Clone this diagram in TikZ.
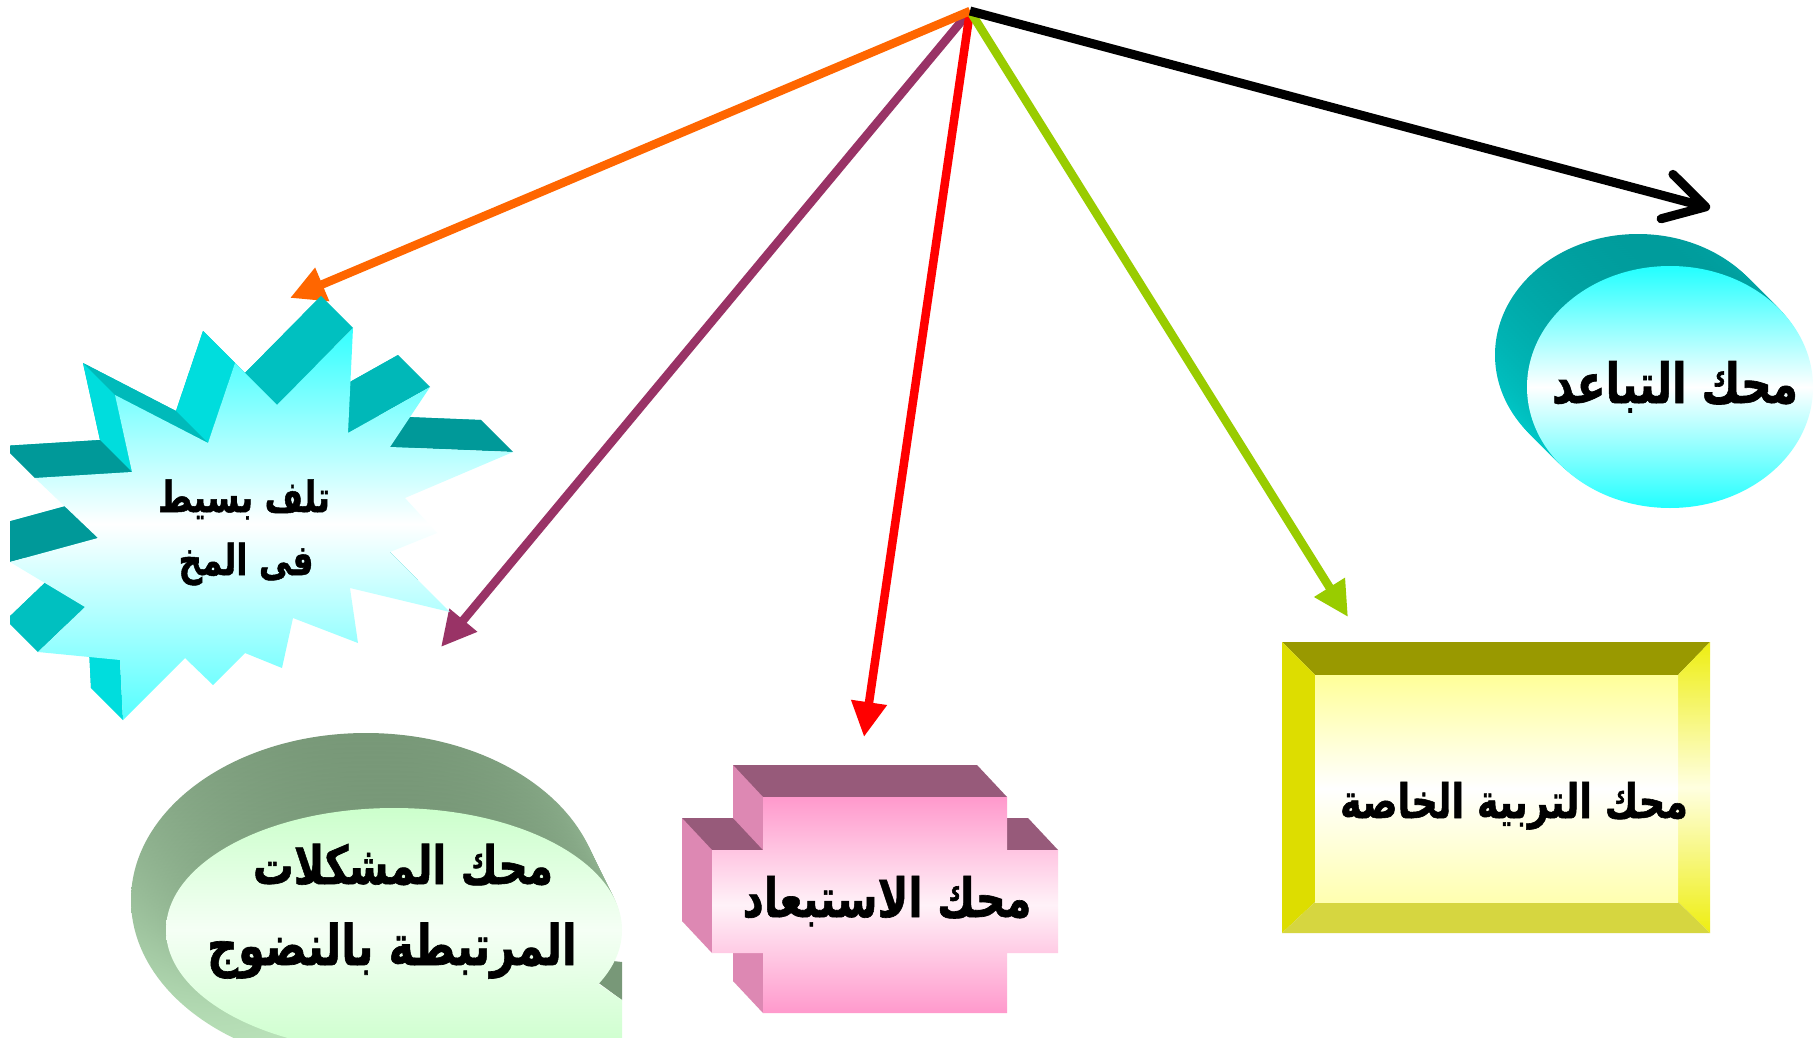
\documentclass[tikz,border=0pt]{standalone}
\usepackage{fontspec}
\usepackage{graphicx}
\usetikzlibrary{arrows.meta}
\TeXXeTstate=1
\newfontfamily\arabicfont[Script=Arabic,FakeBold=1.2]{DejaVu Sans Bold}
\newcommand\artxt[2]{\resizebox{#1pt}{!}{\scalebox{1}[1.3]{\arabicfont #2}}}
\definecolor{orA}{HTML}{FF6600}
\definecolor{puA}{HTML}{993366}
\definecolor{reA}{HTML}{FF0000}
\definecolor{grA}{HTML}{99CC00}
\definecolor{tlD}{HTML}{009999}
\definecolor{tlM}{HTML}{00C0C0}
\definecolor{tlB}{HTML}{00DDDD}
\definecolor{cyT}{HTML}{33FFFF}
\definecolor{cyB}{HTML}{55FFFF}
\definecolor{cyE1}{HTML}{009C9C}
\definecolor{cyE2}{HTML}{00D4D4}
\definecolor{cyF}{HTML}{22FFFF}
\definecolor{yeTop}{HTML}{999900}
\definecolor{yeLeft}{HTML}{DDDD00}
\definecolor{yeR}{HTML}{EEEE11}
\definecolor{yeRm}{HTML}{FFFFE0}
\definecolor{yeBot}{HTML}{D6D640}
\definecolor{yeF}{HTML}{FFFF99}
\definecolor{yeFb}{HTML}{FFFFB0}
\definecolor{pkD}{HTML}{975A7A}
\definecolor{pkL}{HTML}{DD88B3}
\definecolor{pkF}{HTML}{FF99CC}
\definecolor{pkM}{HTML}{FFF2F8}
\definecolor{gB1}{HTML}{789878}
\definecolor{gB2}{HTML}{BDE6BD}
\definecolor{gF}{HTML}{CCFFCC}
\definecolor{gM}{HTML}{F5FFF5}
\begin{document}
\begin{tikzpicture}[x=1pt,y=-1pt,
  arr/.style={line width=8.5pt,-{Triangle[length=35pt,width=34pt]}},
  lbl/.style={inner sep=0pt,anchor=base}]
\useasboundingbox (0,0) rectangle (1815,1038);
\fill[white] (0,0) rectangle (1815,1038);

% ---------- connectors ----------
\coordinate (hub) at (970,11);
\coordinate (tipO) at (290,298);
\coordinate (tipP) at (441,647);
\coordinate (tipR) at (864,737);
\coordinate (tipG) at (1348,617);
\coordinate (tipK) at (1710,208);
\draw[arr,puA] (hub) -- (tipP);
\draw[arr,reA] (hub) -- (tipR);
\draw[arr,grA] (hub) -- (tipG);
\draw[arr,orA] (hub) -- (tipO);
\draw[line width=9pt,-{Straight Barb[length=40pt,width=46pt,round]}] (hub) -- (tipK);

% ---------- cyan ellipse ----------
\foreach \t in {0,0.0625,...,0.95} {
  \shade[top color=cyE1,bottom color=cyE2] ({1638+32*\t},{355+32*\t}) ellipse [x radius=143,y radius=121];
}
\shade[top color=cyF,bottom color=cyF,middle color=white] (1670,387) ellipse [x radius=143,y radius=121];
\node[lbl] (tCyan) at (1675,403) {\artxt{246}{\beginR محك التباعد\endR}};

% ---------- yellow bevel box ----------
\fill[yeTop] (1282,642) -- (1710,642) -- (1678,675) -- (1315,675) -- cycle;
\fill[yeLeft] (1282,642) -- (1315,675) -- (1315,902) -- (1282,933) -- cycle;
\shade[top color=yeR,bottom color=yeR,middle color=yeRm] (1710,642) -- (1710,933) -- (1678,902) -- (1678,675) -- cycle;
\fill[yeBot] (1282,933) -- (1710,933) -- (1678,902) -- (1315,902) -- cycle;
\shade[top color=yeF,bottom color=yeFb,middle color=white] (1315,675) rectangle (1678,902);
\node[lbl] (tYellow) at (1514,818) {\artxt{348}{\beginR محك التربية الخاصة\endR}};

% ---------- pink cross ----------
\fill[pkD] (733,765) -- (977,765) -- (977,818) -- (1028,818) -- (1028,921) -- (977,921) -- (977,981) -- (733,981) -- (733,921) -- (682,921) -- (682,818) -- (733,818) -- cycle;
\fill[pkD] (763,797) -- (1007,797) -- (977,765) -- (733,765) -- cycle;
\fill[pkD] (712,850) -- (763,850) -- (733,818) -- (682,818) -- cycle;
\fill[pkD] (1007,850) -- (1058,850) -- (1028,818) -- (977,818) -- cycle;
\fill[pkL] (763,797) -- (763,850) -- (733,818) -- (733,765) -- cycle;
\fill[pkL] (712,850) -- (712,953) -- (682,921) -- (682,818) -- cycle;
\fill[pkL] (763,953) -- (763,1013) -- (733,981) -- (733,921) -- cycle;
\shade[top color=pkF,bottom color=pkF,middle color=pkM] (763,797) -- (1007,797) -- (1007,850) -- (1058,850) -- (1058,953) -- (1007,953) -- (1007,1013) -- (763,1013) -- (763,953) -- (712,953) -- (712,850) -- (763,850) -- cycle;
\node[lbl] (tPink) at (887,917) {\artxt{289}{\beginR محك الاستبعاد\endR}};

% ---------- green callout ----------
\foreach \t in {0,0.0625,...,0.95} {
  \shade[top color=gB1,bottom color=gB2] ({366+28*\t},{900+30*\t}) ellipse [x radius={235-7*\t},y radius={167-45*\t}];
}
\fill[gB1] (586,958) -- (622,962) -- (622,1000) -- (592,978) -- cycle;
\shade[top color=gF,bottom color=gF,middle color=gM] (394,930) ellipse [x radius=228,y radius=122];
\shade[top color=gF!37!gM,bottom color=gF!89!gM] (470,1038) -- (520,1010) -- (585,975) -- (622,1000) -- (622,1038) -- cycle;
\node[lbl] (tGreen1) at (403,884) {\artxt{300}{\beginR محك المشكلات\endR}};
\node[lbl] (tGreen2) at (392,965) {\artxt{370}{\beginR المرتبطة بالنضوج\endR}};

% ---------- starburst ----------
\begin{scope}
\clip (10,0) rectangle (1815,1038);
\fill[tlM] (321,296) -- (245,373) -- (203,331) -- (176,411) -- (83,363) -- (100,440) -- (3,446) -- (66,506) -- (-22,530) -- (53,575) -- (6,620) -- (88,628) -- (91,688) -- (153,626) -- (181,653) -- (213,621) -- (250,636) -- (261,586) -- (326,611) -- (318,556) -- (418,580) -- (358,520) -- (405,501) -- (373,466) -- (481,420) -- (358,415) -- (398,355) -- (316,401) -- cycle;
\fill[tlM] (353,328) -- (277,405) -- (245,373) -- (321,296) -- cycle;
\fill[tlB] (235,363) -- (208,443) -- (176,411) -- (203,331) -- cycle;
\fill[tlM!85!tlD] (208,443) -- (115,395) -- (83,363) -- (176,411) -- cycle;
\fill[tlB] (115,395) -- (132,472) -- (100,440) -- (83,363) -- cycle;
\fill[tlD] (132,472) -- (35,478) -- (3,446) -- (100,440) -- cycle;
\fill[tlD] (98,538) -- (10,562) -- (-22,530) -- (66,506) -- cycle;
\fill[tlM] (85,607) -- (38,652) -- (6,620) -- (53,575) -- cycle;
\fill[tlB] (120,660) -- (123,720) -- (91,688) -- (88,628) -- cycle;
\fill[tlD] (513,452) -- (390,447) -- (358,415) -- (481,420) -- cycle;
\fill[tlM!80!tlD] (430,387) -- (348,433) -- (316,401) -- (398,355) -- cycle;
\shade[top color=cyT,bottom color=cyB,middle color=white] (353,328) -- (277,405) -- (235,363) -- (208,443) -- (115,395) -- (132,472) -- (35,478) -- (98,538) -- (10,562) -- (85,607) -- (38,652) -- (120,660) -- (123,720) -- (185,658) -- (213,685) -- (245,653) -- (282,668) -- (293,618) -- (358,643) -- (350,588) -- (450,612) -- (390,552) -- (437,533) -- (405,498) -- (513,452) -- (390,447) -- (430,387) -- (348,433) -- cycle;
\end{scope}
\node[lbl] (tStar1) at (244,512) {\artxt{172}{\beginR تلف بسيط\endR}};
\node[lbl] (tStar2) at (246,575) {\artxt{135}{\beginR فى المخ\endR}};
\end{tikzpicture}
\end{document}
